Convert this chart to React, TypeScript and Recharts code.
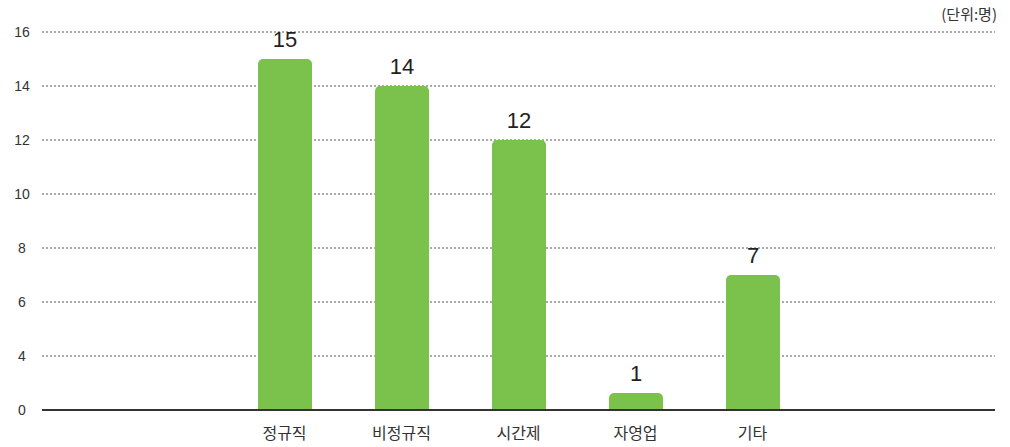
import React from "react";
import { BarChart, Bar, XAxis, YAxis, CartesianGrid, LabelList } from "recharts";

const categories = ["정규직", "비정규직", "시간제", "자영업", "기타"];
const counts = [15, 14, 12, 1, 7];
const yTicks = [0, 4, 6, 8, 10, 12, 14, 16];
const unitLabel = "(단위:명)";

// broken axis: 0~4 squeezed, linear above 4
const knotValues = [0, 1, 4, 16];
const knotFractions = [0, 17 / 378, 54 / 378, 1];

const data = categories.map((name, i) => ({ name, value: counts[i] }));

function brokenScale(): any {
  let dom: number[] = [0, 16];
  let rng: number[] = [0, 1];
  const scale: any = (v: number) => {
    let f = 0;
    if (v <= knotValues[0]) f = 0;
    else if (v >= knotValues[knotValues.length - 1]) f = 1;
    else {
      for (let i = 0; i < knotValues.length - 1; i++) {
        if (v >= knotValues[i] && v <= knotValues[i + 1]) {
          const t = (v - knotValues[i]) / (knotValues[i + 1] - knotValues[i]);
          f = knotFractions[i] + t * (knotFractions[i + 1] - knotFractions[i]);
          break;
        }
      }
    }
    return rng[0] + f * (rng[1] - rng[0]);
  };
  scale.domain = (d?: number[]) => {
    if (d === undefined) return dom;
    dom = d;
    return scale;
  };
  scale.range = (r?: number[]) => {
    if (r === undefined) return rng;
    rng = r;
    return scale;
  };
  scale.ticks = () => yTicks;
  scale.copy = () => brokenScale().domain(dom).range(rng);
  return scale;
}

const font = "'Noto Sans CJK KR', 'Noto Sans', sans-serif";
const numFont = "'Liberation Sans', Arial, sans-serif";

const YTick = (props: any) => {
  const { y, payload } = props;
  return (
    <text x={22} y={y} dy={5} textAnchor="middle" fontSize={14} fill="#333" fontFamily={numFont}>
      {payload.value}
    </text>
  );
};

export default function App() {
  return (
    <div style={{ position: "absolute", left: 0, top: 0, width: 1010, height: 447, background: "#fff" }}>
      <BarChart
        width={1010}
        height={447}
        data={data}
        margin={{ top: 32, right: 15, left: 0, bottom: 7 }}
        barSize={54}
      >
        <CartesianGrid vertical={false} stroke="#555" strokeDasharray="2 2" />
        <XAxis
          dataKey="name"
          padding={{ left: 184, right: 184 }}
          axisLine={{ stroke: "#333", strokeWidth: 2 }}
          tickLine={false}
          tickMargin={12}
          height={30}
          interval={0}
          tick={{ fontSize: 16, fill: "#333", fontFamily: font }}
        />
        <YAxis
          type="number"
          domain={[0, 16]}
          scale={brokenScale()}
          ticks={yTicks}
          interval={0}
          width={42}
          axisLine={false}
          tickLine={false}
          tick={<YTick />}
        />
        <Bar dataKey="value" fill="#7ac24c" radius={[5, 5, 0, 0]} isAnimationActive={false}>
          <LabelList
            dataKey="value"
            position="top"
            offset={12}
            fontSize={22}
            fill="#222"
            fontFamily={numFont}
          />
        </Bar>
        <text x={997} y={20} textAnchor="end" fontSize={15} fill="#333" fontFamily={font}>
          {unitLabel}
        </text>
      </BarChart>
    </div>
  );
}
